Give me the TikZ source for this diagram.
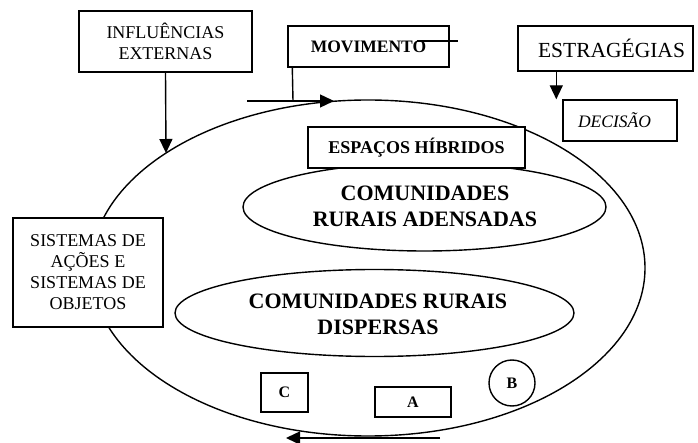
\documentclass[tikz,border=0pt]{standalone}
\usepackage{fontspec}
\setmainfont{Liberation Serif}
\usetikzlibrary{arrows.meta,shapes.geometric}
\begin{document}
\begin{tikzpicture}[x=1pt,y=-1pt,
  box/.style={draw, line width=1.4pt, fill=white, inner sep=0pt, align=center},
  oval/.style={draw, line width=1.4pt, ellipse, inner sep=0pt},
  arr/.style={line width=1.4pt, -{Triangle[length=14pt,width=13pt]}},
  ln/.style={line width=1.4pt},
  txt/.style={inner sep=0pt, align=center}]
\useasboundingbox (0,0) rectangle (698,443);
% big ellipse
\node[oval, minimum width=554pt, minimum height=336pt] (big) at (368,268) {};
% inner ellipses
\node[oval, minimum width=363pt, minimum height=88pt] (e1) at (424.5,207) {};
\node[oval, minimum width=399pt, minimum height=87pt] (e2) at (374.5,313) {};
\node[txt, font=\bfseries\fontsize{22}{26}\selectfont] (t1) at (425,206) {COMUNIDADES\\RURAIS ADENSADAS};
\node[txt, font=\bfseries\fontsize{22}{26}\selectfont] (t2) at (378,314) {COMUNIDADES RURAIS\\DISPERSAS};
% boxes
\node[box, minimum width=173pt, minimum height=61pt, font=\fontsize{18}{21}\selectfont] (infl) at (165.5,41.5) {INFLUÊNCIAS\\EXTERNAS};
\node[box, minimum width=161pt, minimum height=41pt, font=\bfseries\fontsize{17.5}{20}\selectfont] (mov) at (368.5,46.5) {MOVIMENTO};
\node[box, minimum width=175pt, minimum height=45pt, font=\fontsize{21.5}{24}\selectfont] (estr) at (605.5,48.5) {\hspace*{12pt}ESTRAGÉGIAS};
\node[box, minimum width=114pt, minimum height=41pt, font=\itshape\fontsize{17.5}{20}\selectfont] (dec) at (620,120.5) {DECISÃO\hspace*{11pt}};
\node[box, minimum width=217pt, minimum height=41pt, font=\bfseries\fontsize{18}{20}\selectfont] (esp) at (416.5,147.5) {ESPAÇOS HÍBRIDOS};
\node[box, minimum width=150pt, minimum height=109pt, font=\fontsize{18}{21}\selectfont] (sis) at (88,272.5) {SISTEMAS DE\\AÇÕES E\\SISTEMAS DE\\OBJETOS};
\node[box, minimum width=47pt, minimum height=39pt, font=\bfseries\fontsize{16}{18}\selectfont] (C) at (284.5,392.5) {C};
\node[box, minimum width=76pt, minimum height=30pt, font=\bfseries\fontsize{16}{18}\selectfont] (A) at (413,402) {\raisebox{-3pt}{A}};
\node[box, circle, minimum size=46pt, font=\bfseries\fontsize{16}{18}\selectfont] (B) at (512,383) {B};
% connectors
\coordinate (t0) at (166,153);
\draw[arr] (infl.south) -- (t0);
\coordinate (m0) at (247,101);
\coordinate (m1) at (293,101);
\coordinate (m2) at (334,101);
\draw[ln] ([xshift=5pt]mov.south west) -- (m1);
\draw[arr] (m0) -- (m2);
\coordinate (s1) at (417,41);
\coordinate (s2) at (458,41);
\draw[ln] (s1) -- (s2);
\draw[arr] ([xshift=39pt]estr.south west) -- ([xshift=-6pt]dec.north west);
\coordinate (b1) at (440,438);
\coordinate (b2) at (286,438);
\draw[arr] (b1) -- (b2);
\end{tikzpicture}
\end{document}
